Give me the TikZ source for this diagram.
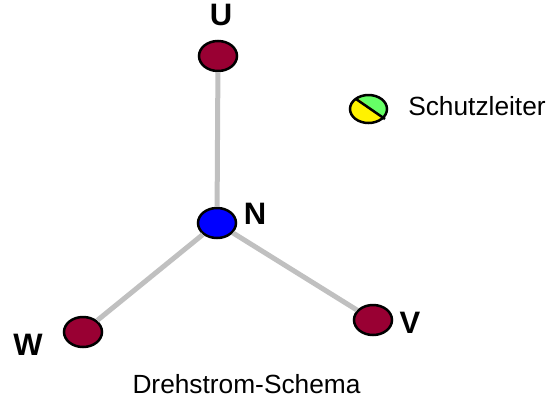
\documentclass[tikz,border=0pt]{standalone}
\usepackage{fontspec}
\setmainfont{Liberation Sans}
\usetikzlibrary{shapes.geometric}
\definecolor{wine}{RGB}{153,0,51}
\definecolor{wire}{RGB}{192,192,192}
\definecolor{pegreen}{RGB}{102,255,102}
\tikzset{
 term/.style={ellipse,draw=black,line width=2.5pt,fill=wine,minimum width=38pt,minimum height=30pt,inner sep=0pt},
 neutral/.style={term,fill=blue},
 wirel/.style={draw=wire,line width=5pt},
 big/.style={font=\fontsize{31}{31}\selectfont\bfseries,inner sep=0pt},
 small/.style={font=\fontsize{26.3}{27}\selectfont,inner sep=0pt}}
\begin{document}
\begin{tikzpicture}[x=1pt,y=-1pt]
\useasboundingbox (0,0) rectangle (549,397);
\node[term] (u) at (218,56) {};
\node[neutral] (n) at (217,223) {};
\node[term] (w) at (83,332) {};
\node[term] (v) at (373,320) {};
\draw[wirel] (u) -- (n);
\draw[wirel] (n) -- (w);
\draw[wirel] (n) -- (v);
\node[big] (lu) at (221,15) {U};
\node[big] (ln) at (255,214) {N};
\node[big] (lv) at (410,323) {V};
\node[big] (lw) at (28,345) {W};
\node[small] (ls) at (477,106) {Schutzleiter};
\node[small] (lc) at (246.5,384) {Drehstrom-Schema};
\coordinate (pe) at (368.5,109);
\fill[yellow] (pe) ellipse (18.5pt and 14pt);
\begin{scope}
\clip (pe) ellipse (18.5pt and 14pt);
\fill[pegreen] (355,96) -- (390,122) -- (390,90) -- (355,90) -- cycle;
\end{scope}
\coordinate (sa) at (356,99);
\coordinate (sb) at (385,119);
\draw[black,line width=2.5pt] (sa) -- (sb);
\draw[black,line width=2.5pt] (pe) ellipse (18.5pt and 14pt);
\end{tikzpicture}
\end{document}
